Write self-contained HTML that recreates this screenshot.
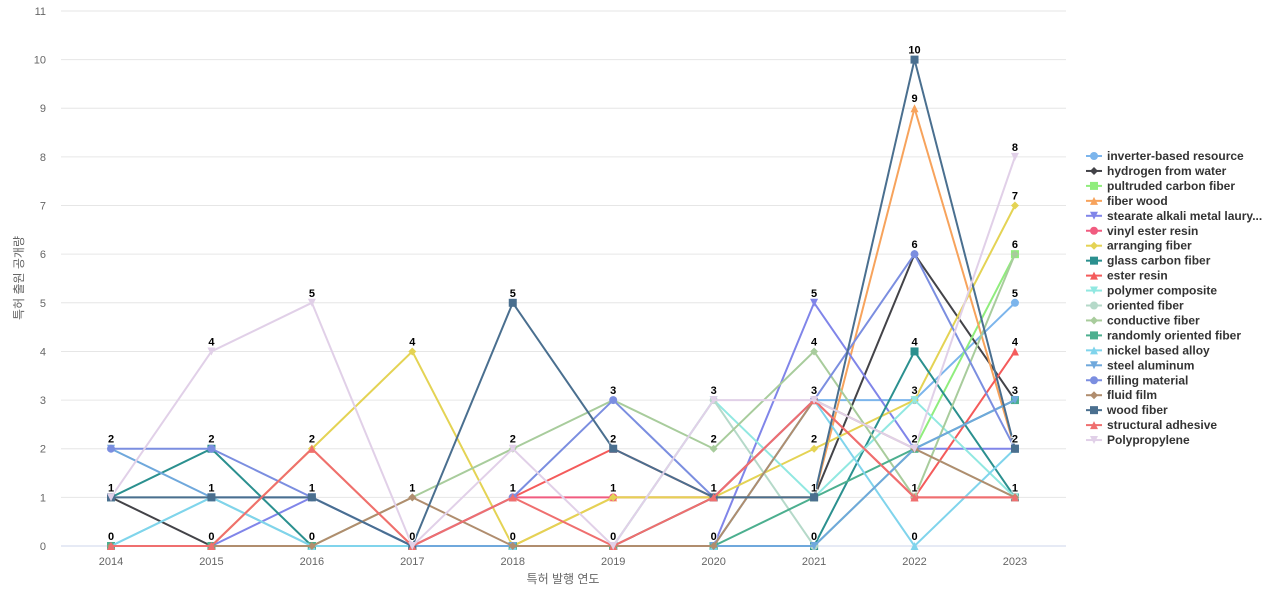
<!DOCTYPE html>
<html><head><meta charset="utf-8"><style>
body{margin:0;background:#fff;font-family:"Liberation Sans","Noto Sans CJK KR",sans-serif}
svg text{font-family:"Liberation Sans","Noto Sans CJK KR",sans-serif}
</style></head><body>
<svg id="c" width="1280" height="600" xmlns="http://www.w3.org/2000/svg"></svg>
<script>
const S=document.getElementById('c');let h='';
const X=i=>111+i*100.44, Y=v=>546-v*48.64;
for(let v=0;v<=11;v++){h+=`<line x1="61" x2="1066" y1="${Y(v)}" y2="${Y(v)}" stroke="${v?'#e6e6e6':'#ccd6eb'}"/>`;
h+=`<text x="46" y="${Y(v)+4}" text-anchor="end" font-size="11" fill="#666">${v}</text>`;}
for(let i=0;i<10;i++)h+=`<text x="${X(i)}" y="565" text-anchor="middle" font-size="11" fill="#666">${2014+i}</text>`;
h+=`<text x="563" y="583" text-anchor="middle" font-size="12" fill="#666">특허 발행 연도</text>`;
h+=`<text transform="translate(23,278) rotate(-90)" text-anchor="middle" font-size="12" fill="#666">특허 출원 공개량</text>`;
const D=[
["inverter-based resource","#7cb5ec","c",[0,0,0,0,0,0,0,3,3,5]],
["hydrogen from water","#434348","d",[1,0,0,0,0,0,1,1,6,3]],
["pultruded carbon fiber","#90ed7d","s",[0,0,0,0,0,0,0,0,2,6]],
["fiber wood","#f7a35c","t",[0,0,2,0,0,1,1,1,9,2]],
["stearate alkali metal laury...","#8085e9","v",[0,0,1,0,0,0,0,5,2,2]],
["vinyl ester resin","#f15c80","c",[0,0,0,0,1,1,1,3,1,1]],
["arranging fiber","#e4d354","d",[0,0,2,4,0,1,1,2,3,7]],
["glass carbon fiber","#2b908f","s",[1,2,0,0,0,0,0,0,4,1]],
["ester resin","#f45b5b","t",[0,0,0,0,1,2,1,3,1,4]],
["polymer composite","#91e8e1","v",[0,1,0,0,0,0,3,1,3,1]],
["oriented fiber","#b5d9c9","c",[1,1,0,0,0,0,3,0,2,1]],
["conductive fiber","#a8cc9c","d",[0,0,0,1,2,3,2,4,1,6]],
["randomly oriented fiber","#4caf8f","s",[0,0,0,0,0,0,0,1,2,3]],
["nickel based alloy","#80d4ec","t",[0,1,0,0,0,0,0,3,0,2]],
["steel aluminum","#6fa8dc","v",[2,1,1,0,0,0,0,0,2,3]],
["filling material","#7b8ee0","c",[2,2,1,0,1,3,1,3,6,2]],
["fluid film","#b08d6e","d",[0,0,0,1,0,0,0,3,2,1]],
["wood fiber","#4a6f8f","s",[1,1,1,0,5,2,1,1,10,2]],
["structural adhesive","#ef6f6f","t",[0,0,2,0,1,0,1,3,1,1]],
["Polypropylene","#e1d0e8","v",[1,4,5,0,2,0,3,3,2,8]]];
function mk(x,y,t,c,r){r=r||4;
if(t=="c")return `<circle cx="${x}" cy="${y}" r="${r}" fill="${c}"/>`;
if(t=="s")return `<rect x="${x-r}" y="${y-r}" width="${2*r}" height="${2*r}" fill="${c}"/>`;
if(t=="d")return `<path d="M${x} ${y-r}L${x+r} ${y}L${x} ${y+r}L${x-r} ${y}Z" fill="${c}"/>`;
if(t=="t")return `<path d="M${x} ${y-r}L${x+r} ${y+r}L${x-r} ${y+r}Z" fill="${c}"/>`;
return `<path d="M${x-r} ${y-r}L${x+r} ${y-r}L${x} ${y+r}Z" fill="${c}"/>`;}
D.forEach(([n,c,t,d],k)=>{
h+=`<polyline fill="none" stroke="${c}" stroke-width="2" points="${d.map((v,i)=>X(i)+','+Y(v)).join(' ')}"/>`;
d.forEach((v,i)=>h+=mk(X(i),Y(v),t,c));
const ly=156+k*14.95;
h+=`<line x1="1086" x2="1102" y1="${ly}" y2="${ly}" stroke="${c}" stroke-width="2"/>`+mk(1094,ly,t,c,4);
h+=`<text x="1107" y="${ly+4}" font-size="12" font-weight="bold" fill="#333">${n}</text>`;});
const L=[[0,1,2],[0,1,2,4],[0,1,2,5],[0,1,4],[0,1,2,5],[0,1,2,3],[0,1,2,3],[0,1,2,3,4,5],[0,1,2,3,4,6,9,10],[1,2,3,4,5,6,7,8]];
L.forEach((a,i)=>a.forEach(v=>h+=`<text x="${X(i)}" y="${Y(v)-6}" text-anchor="middle" font-size="11" font-weight="bold" fill="#000" stroke="#fff" stroke-width="2" paint-order="stroke">${v}</text>`));
S.innerHTML=h;
</script>
</body></html>
